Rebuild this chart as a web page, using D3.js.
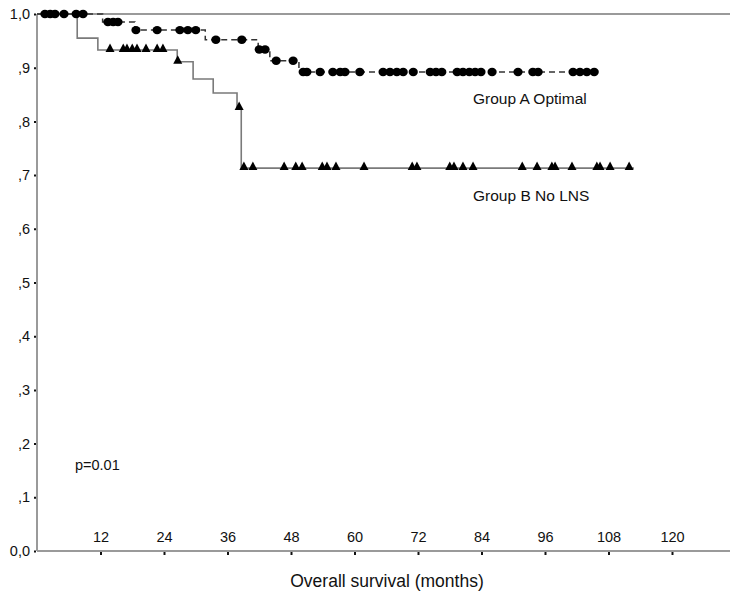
<!DOCTYPE html>
<html>
<head>
<meta charset="utf-8">
<script src="https://cdn.jsdelivr.net/npm/d3@7"></script>
<style>
  html, body { margin: 0; padding: 0; background: #fff; }
  svg { display: block; }
  text { font-family: "Liberation Sans", Arial, Helvetica, sans-serif; fill: #111; }
</style>
</head>
<body>
<svg id="chart" width="730" height="596"></svg>
<script>
// Kaplan-Meier steps: [month, survival]
const stepsA = [[0, 1.0], [12.4, 0.985], [18.5, 0.970], [31.8, 0.952], [41.8, 0.934], [44.0, 0.913], [49.5, 0.892]];
const endA = 105.8;
const censorA = [
  [1.5, 1.0], [2.5, 1.0], [3.4, 1.0], [5.1, 1.0], [7.4, 1.0], [8.7, 1.0],
  [13.4, 0.985], [14.4, 0.985], [15.3, 0.985],
  [18.7, 0.970], [22.7, 0.970], [27.0, 0.970], [28.5, 0.970], [30.0, 0.970],
  [33.8, 0.952], [38.7, 0.952],
  [42.0, 0.934], [43.1, 0.934],
  [45.2, 0.913], [48.4, 0.913],
  [50.3, 0.892], [51.0, 0.892], [53.5, 0.892], [55.9, 0.892], [57.3, 0.892], [58.2, 0.892],
  [61.0, 0.892], [65.4, 0.892], [66.7, 0.892], [68.0, 0.892], [69.2, 0.892], [71.1, 0.892],
  [74.3, 0.892], [75.4, 0.892], [76.5, 0.892], [79.4, 0.892], [80.5, 0.892], [81.7, 0.892],
  [82.8, 0.892], [83.9, 0.892], [86.0, 0.892], [90.9, 0.892], [93.7, 0.892], [94.7, 0.892],
  [101.3, 0.892], [102.6, 0.892], [103.9, 0.892], [105.3, 0.892]
];

const stepsB = [[0, 1.0], [7.6, 0.955], [11.5, 0.933], [26.5, 0.911], [29.5, 0.879], [33.3, 0.853], [37.8, 0.825], [38.6, 0.713]];
const endB = 112.8;
const censorB = [
  [13.8, 0.933], [16.3, 0.933], [17.0, 0.933], [18.0, 0.933], [18.9, 0.933], [20.6, 0.933], [22.7, 0.933], [23.8, 0.933],
  [26.6, 0.911],
  [38.2, 0.825],
  [39.1, 0.713], [40.8, 0.713], [46.7, 0.713], [48.9, 0.713], [50.1, 0.713], [53.9, 0.713], [54.8, 0.713],
  [56.5, 0.713], [61.8, 0.713], [70.9, 0.713], [71.8, 0.713], [78.0, 0.713], [78.8, 0.713], [80.5, 0.713],
  [82.4, 0.713], [91.7, 0.713], [94.5, 0.713], [97.3, 0.713], [97.9, 0.713], [101.1, 0.713],
  [105.8, 0.713], [106.4, 0.713], [108.3, 0.713], [111.9, 0.713]
];

const xTicks = [12, 24, 36, 48, 60, 72, 84, 96, 108, 120];
const yTicks = [0, 0.1, 0.2, 0.3, 0.4, 0.5, 0.6, 0.7, 0.8, 0.9, 1.0];
const yTickLabels = ["0,0", ",1", ",2", ",3", ",4", ",5", ",6", ",7", ",8", ",9", "1,0"];
const seriesLabels = ["Group A Optimal", "Group B No LNS"];
const axisTitle = "Overall survival (months)";
const pLabel = "p=0.01";

const svg = d3.select("#chart");
const x = d3.scaleLinear().domain([0, 120]).range([37, 672]);
const y = d3.scaleLinear().domain([0, 1]).range([551, 14]);
const frameRight = 730;

// frame: left axis, bottom axis, top border
const frame = svg.append("g").attr("stroke", "#9a9a9a").attr("stroke-width", 2).attr("fill", "none");
frame.append("line").attr("x1", x(0)).attr("x2", frameRight).attr("y1", y(1)).attr("y2", y(1));
frame.append("line").attr("x1", x(0)).attr("x2", x(0)).attr("y1", y(1)).attr("y2", y(0));
frame.append("line").attr("x1", x(0)).attr("x2", frameRight).attr("y1", y(0)).attr("y2", y(0));

// y axis: tiny dot ticks, labels on the left
const yAxis = d3.axisLeft(y).tickValues(yTicks).tickSize(2).tickPadding(4)
  .tickFormat((d, i) => yTickLabels[i]);
const gy = svg.append("g").attr("transform", `translate(${x(0) - 1},0)`).call(yAxis);
gy.select(".domain").remove();
gy.selectAll(".tick line").attr("stroke", "#111").attr("stroke-width", 2);
gy.selectAll(".tick text").attr("font-size", 14.5).attr("fill", "#111");

// x axis: ticks below the line, labels inside the plot above it
const xAxis = d3.axisBottom(x).tickValues(xTicks).tickSize(3).tickFormat(d3.format("d"));
const gx = svg.append("g").attr("transform", `translate(0,${y(0) + 1})`).call(xAxis);
gx.select(".domain").remove();
gx.selectAll(".tick line").attr("stroke", "#111").attr("stroke-width", 2);
gx.selectAll(".tick text").attr("font-size", 14.5).attr("fill", "#111").attr("y", -10).attr("dy", 0);

function stepPoints(steps, end) {
  const pts = steps.slice();
  pts.push([end, steps[steps.length - 1][1]]);
  return pts;
}
const line = d3.line().x(d => x(d[0])).y(d => y(d[1])).curve(d3.curveStepAfter);

// Group B: solid grey step curve
svg.append("path").datum(stepPoints(stepsB, endB))
  .attr("d", line).attr("fill", "none").attr("stroke", "#7a7a7a").attr("stroke-width", 1.6);

// Group A: dashed dark step curve
svg.append("path").datum(stepPoints(stepsA, endA))
  .attr("d", line).attr("fill", "none").attr("stroke", "#333").attr("stroke-width", 1.5)
  .attr("stroke-dasharray", "6,4");

// censor markers
svg.append("g").selectAll("path").data(censorB).join("path")
  .attr("d", d => {
    const cx = x(d[0]), cy = y(d[1]);
    return `M${cx - 4.5},${cy + 2}L${cx},${cy - 6.5}L${cx + 4.5},${cy + 2}Z`;
  })
  .attr("fill", "#000");

svg.append("g").selectAll("ellipse").data(censorA).join("ellipse")
  .attr("cx", d => x(d[0])).attr("cy", d => y(d[1]))
  .attr("rx", 4.6).attr("ry", 4.2).attr("fill", "#000");

// labels
svg.append("text").attr("x", 473).attr("y", 104).attr("font-size", 15.5).text(seriesLabels[0]);
svg.append("text").attr("x", 473).attr("y", 201).attr("font-size", 15.5).text(seriesLabels[1]);
svg.append("text").attr("x", 75).attr("y", 470).attr("font-size", 14.5).text(pLabel);
svg.append("text").attr("x", 387).attr("y", 587).attr("text-anchor", "middle").attr("font-size", 17.5).text(axisTitle);
</script>
</body>
</html>
